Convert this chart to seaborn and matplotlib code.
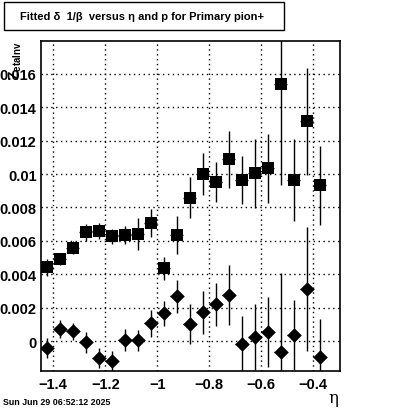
import numpy as np
import pandas as pd
import matplotlib
matplotlib.use("Agg")
import matplotlib.pyplot as plt
import seaborn as sns
from matplotlib.ticker import MultipleLocator, FixedLocator, FixedFormatter

# ---- data ----
eta = [-1.425, -1.375, -1.325, -1.275, -1.225, -1.175, -1.125, -1.075, -1.025, -0.975,
       -0.925, -0.875, -0.825, -0.775, -0.725, -0.675, -0.625, -0.575, -0.525, -0.475,
       -0.425, -0.375]
eta_halfwidth = 0.025

sq_val = [0.00441, 0.00489, 0.00559, 0.00651, 0.00657, 0.00627, 0.00635, 0.00640, 0.00705, 0.00435,
          0.00635, 0.00858, 0.00998, 0.00950, 0.01088, 0.00962, 0.01004, 0.01034, 0.01537, 0.00962,
          0.01316, 0.00932]
sq_err = [0.00050, 0.00033, 0.00040, 0.00050, 0.00047, 0.00045, 0.00055, 0.00097, 0.00084, 0.00070,
          0.00113, 0.00123, 0.00125, 0.00120, 0.00170, 0.00143, 0.00205, 0.00208, 0.00600, 0.00245,
          0.00320, 0.00235]

dm_val = [-0.00042, 0.00072, 0.00058, -0.00008, -0.00104, -0.00118, 0.00006, 0.00004, 0.00106, 0.00166,
          0.00268, 0.00100, 0.00172, 0.00220, 0.00274, -0.00020, 0.00024, 0.00052, -0.00068, 0.00034,
          0.00311, -0.00098]
dm_err = [0.00060, 0.00055, 0.00050, 0.00063, 0.00060, 0.00060, 0.00065, 0.00065, 0.00080, 0.00075,
          0.00097, 0.00120, 0.00130, 0.00130, 0.00180, 0.00170, 0.00200, 0.00210, 0.00475, 0.00210,
          0.00370, 0.00230]

y_ticks = [0, 0.002, 0.004, 0.006, 0.008, 0.01, 0.012, 0.014, 0.016]
y_ticklabels = ["0", "0.002", "0.004", "0.006", "0.008", "0.01", "0.012", "0.014", "0.016"]
x_ticks = [-1.4, -1.2, -1.0, -0.8, -0.6, -0.4]
x_ticklabels = ["\u22121.4", "\u22121.2", "\u22121", "\u22120.8", "\u22120.6", "\u22120.4"]

title_text = "Fitted \u03b4  1/\u03b2  versus \u03b7 and p for Primary pion+"
date_text = "Sun Jun 29 06:52:12 2025"
ylabel_text = r"Z$_{\mathregular{etaInv}}$"
xlabel_text = "\u03b7"

df_sq = pd.DataFrame({"eta": eta, "val": sq_val, "err": sq_err})
df_dm = pd.DataFrame({"eta": eta, "val": dm_val, "err": dm_err})

# ---- style ----
sns.set_theme(style="white")
plt.rcParams["font.family"] = ["Liberation Sans", "DejaVu Sans"]
plt.rcParams["axes.unicode_minus"] = True

fig = plt.figure(figsize=(4.0, 4.14), dpi=100)
ax = fig.add_axes([0.1017, 0.1007, 0.7483, 0.7986])

# error bars
for d in (df_sq, df_dm):
    ax.errorbar(d["eta"], d["val"], yerr=d["err"], xerr=eta_halfwidth,
                fmt="none", ecolor="black", elinewidth=1.0, capsize=0, zorder=3)

sns.scatterplot(data=df_sq, x="eta", y="val", marker="s", s=68, color="black",
                edgecolor="black", linewidth=0, ax=ax, zorder=4)
sns.scatterplot(data=df_dm, x="eta", y="val", marker="D", s=55, color="black",
                edgecolor="black", linewidth=0, ax=ax, zorder=4)

ax.set_xlim(-1.4485, -0.297)
ax.set_ylim(-0.00181, 0.01798)

ax.xaxis.set_major_locator(FixedLocator(x_ticks))
ax.xaxis.set_major_formatter(FixedFormatter(x_ticklabels))
ax.xaxis.set_minor_locator(MultipleLocator(0.05))
ax.yaxis.set_major_locator(FixedLocator(y_ticks))
ax.yaxis.set_major_formatter(FixedFormatter(y_ticklabels))
ax.yaxis.set_minor_locator(MultipleLocator(0.0005))

ax.tick_params(axis="both", which="major", direction="in", length=9, width=1,
               color="black", labelsize=10.5, pad=3, top=False, right=False)
ax.tick_params(axis="both", which="minor", direction="in", length=4.5, width=1,
               color="black", top=False, right=False)
ax.tick_params(axis="x", which="major", pad=4)
for lab in ax.get_xticklabels() + ax.get_yticklabels():
    lab.set_fontweight("bold")
    lab.set_color("black")

ax.grid(True, which="major", color="black", linestyle=(0, (1, 2.5)), linewidth=1.0)
ax.set_axisbelow(True)
for sp in ax.spines.values():
    sp.set_color("black")
    sp.set_linewidth(1.2)
    sp.set_visible(True)

ax.set_xlabel("")
ax.set_ylabel("")

# y label (rotated, top-left)
fig.text(0.018, 0.900, ylabel_text, rotation=90, ha="left", va="top",
         fontsize=10, fontweight="bold", color="black")
# x label
fig.text(0.833, 0.016, xlabel_text, ha="center", va="bottom", fontsize=12,
         family=["DejaVu Serif"], color="black")
# date
fig.text(0.008, 0.016, date_text, ha="left", va="bottom", fontsize=6.4,
         fontweight="bold", color="black")

# title box
fig.patches.append(plt.Rectangle((0.010, 1 - 30.5 / 414), 0.700, 27.5 / 414,
                                 transform=fig.transFigure, fill=True, facecolor="white",
                                 edgecolor="black", linewidth=1.0))
fig.text(0.355, 1 - 16.5 / 414, title_text, ha="center", va="center",
         fontsize=8, fontweight="bold", color="black")

fig.savefig("out.png", dpi=100)
